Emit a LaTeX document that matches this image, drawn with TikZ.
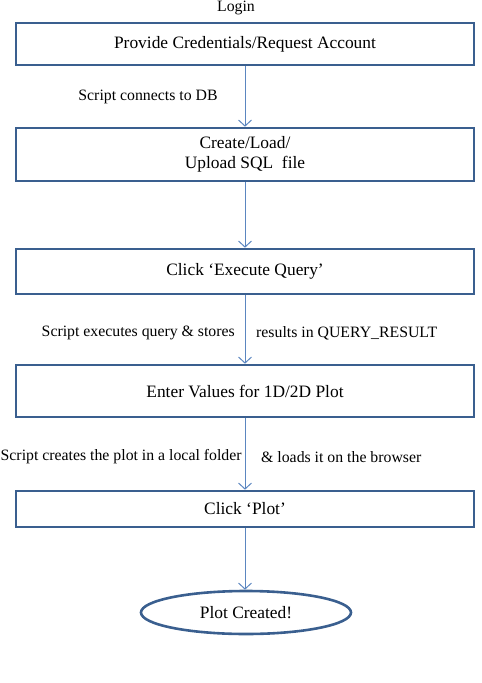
\documentclass[tikz,border=0pt]{standalone}
\usepackage{fontspec}
\setmainfont{Liberation Serif}
\usetikzlibrary{arrows.meta,shapes.geometric}
\definecolor{boxblue}{HTML}{3A5F8F}
\definecolor{arrblue}{HTML}{5B86C0}
\begin{document}
\begin{tikzpicture}[x=1pt,y=-1pt,
  stepbox/.style={draw=boxblue,line width=2.6pt,rectangle,minimum width=458pt,inner sep=0pt,
     font=\fontsize{17.4}{20}\selectfont,align=center},
  endell/.style={draw=boxblue,line width=2.6pt,ellipse,minimum width=210pt,minimum height=43pt,inner sep=0pt,
     font=\fontsize{17.4}{20}\selectfont},
  lbl/.style={font=\fontsize{15.8}{18}\selectfont,inner sep=0pt},
  flow/.style={draw=arrblue,line width=1pt,-{Straight Barb[length=6pt,width=13pt]}}]
\useasboundingbox (0,0) rectangle (482,683);
\node[lbl,anchor=north] (login) at (236,1) {Login};
\node[stepbox,minimum height=42pt] (b1) at (245,44) {Provide Credentials/Request Account};
\node[stepbox,minimum height=53pt] (b2) at (245,154.5) {Create/Load/\\Upload SQL\ \ file};
\node[stepbox,minimum height=45pt] (b3) at (245,271.5) {Click ‘Execute Query’};
\node[stepbox,minimum height=52pt] (b4) at (245,391) {Enter Values for 1D/2D Plot};
\node[stepbox,minimum height=36pt] (b5) at (245,509) {Click ‘Plot’};
\node[endell] (e) at (246,612.5) {Plot Created!};
\node[lbl] (l1) at (148,97) {Script connects to DB};
\node[lbl,anchor=east] (l2) at (235,333) {Script executes query \& stores};
\node[lbl,anchor=west] (l3) at (256,333) {results in QUERY\_RESULT};
\node[lbl,anchor=west] (l4) at (0.5,457) {Script creates the plot in a local folder};
\node[lbl,anchor=west] (l5) at (261,457) {\& loads it on the browser};
\draw[flow] (b1.south) -- (b2.north);
\draw[flow] (b2.south) -- (b3.north);
\draw[flow] (b3.south) -- (b4.north);
\draw[flow] (b4.south) -- (b5.north);
\draw[flow] (b5.south) -- (b5.south |- e.north);
\end{tikzpicture}
\end{document}
